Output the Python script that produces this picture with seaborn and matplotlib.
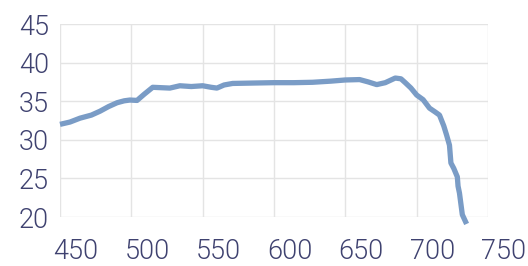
import matplotlib
matplotlib.use("Agg")
import matplotlib.pyplot as plt
import matplotlib.transforms as mtransforms
import seaborn as sns
import pandas as pd

wavelength = [450, 457, 464, 472, 478, 484, 490, 495, 499, 504, 509, 515, 521,
              527, 534, 542, 550, 556, 560, 565, 571, 585, 600, 614, 627, 640,
              650, 660, 666, 672, 678, 685, 689, 692, 696, 700, 704.5, 709,
              713, 716, 719, 721, 723, 724, 726, 728.5, 729, 730, 732, 735]
value = [32.0, 32.3, 32.8, 33.2, 33.7, 34.3, 34.8, 35.05, 35.15, 35.1, 35.9,
         36.8, 36.75, 36.7, 37.0, 36.9, 37.0, 36.8, 36.7, 37.1, 37.3, 37.35,
         37.4, 37.4, 37.45, 37.6, 37.75, 37.8, 37.5, 37.15, 37.4, 38.0, 37.9,
         37.4, 36.7, 35.8, 35.2, 34.1, 33.6, 33.2, 31.8, 30.6, 29.3, 27.0,
         26.3, 25.2, 24.0, 23.1, 20.3, 19.1]

x_ticks = [450, 500, 550, 600, 650, 700, 750]
y_ticks = [20, 25, 30, 35, 40, 45]

df = pd.DataFrame({"wavelength": wavelength, "value": value})

sns.set_theme(style="whitegrid")
plt.rcParams["font.family"] = ["Roboto", "DejaVu Sans"]

text_color = "#3f4270"
line_color = "#7a9cc6"

fig = plt.figure(figsize=(5.28, 2.66), dpi=100)
ax = fig.add_axes([60 / 528, 49 / 266, 428 / 528, 193 / 266])

sns.lineplot(data=df, x="wavelength", y="value", ax=ax, color=line_color,
             linewidth=3.8, clip_on=False, solid_capstyle="butt",
             solid_joinstyle="round")

ax.set_xlim(450, 750)
ax.set_ylim(20, 45)
ax.set_xticks(x_ticks)
ax.set_yticks(y_ticks)
ax.set_xlabel("")
ax.set_ylabel("")
ax.grid(True, color="#e4e4e4", linewidth=1.0)
for s in ax.spines.values():
    s.set_visible(False)

ax.tick_params(axis="both", length=0, labelsize=19.5, labelcolor=text_color)
ax.tick_params(axis="x", pad=15)
ax.tick_params(axis="y", pad=8)
for lab in ax.get_xticklabels() + ax.get_yticklabels():
    lab.set_fontweight(300)
for lab in ax.get_xticklabels():
    lab.set_horizontalalignment("left")
    lab.set_transform(lab.get_transform() + mtransforms.ScaledTranslation(-7 / 100, 0, fig.dpi_scale_trans))

fig.savefig("out.png", dpi=100)
plt.close(fig)
